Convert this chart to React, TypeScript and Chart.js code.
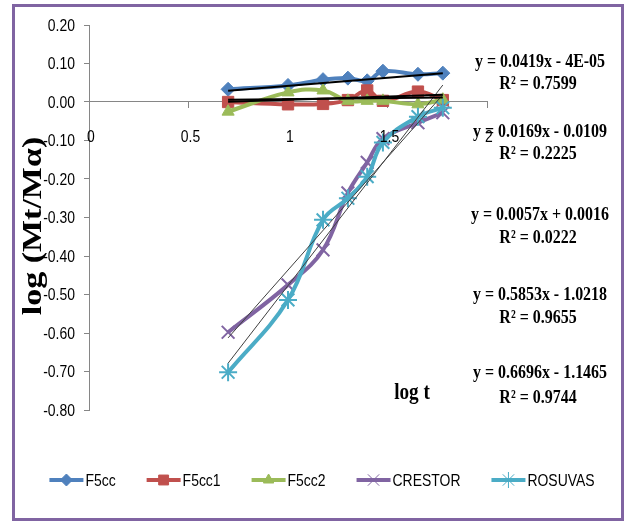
import React, { useEffect, useRef } from 'react';
import { Chart, registerables } from 'chart.js';
import { drawPoint } from 'chart.js/helpers';

Chart.register(...registerables);

// ---- data ----
const logT = [0.699, 1, 1.176, 1.301, 1.398, 1.477, 1.653, 1.778];
const f5cc = [0.033, 0.043, 0.058, 0.062, 0.055, 0.08, 0.072, 0.075];
const f5cc1 = [0.0, -0.006, -0.005, 0.005, 0.03, 0.003, 0.027, 0.005];
const f5cc2 = [-0.025, 0.025, 0.03, 0.003, 0.003, 0.003, -0.006, 0.006];
const crestor = [-0.598, -0.475, -0.384, -0.236, -0.157, -0.095, -0.054, -0.028];
const rosuvas = [-0.702, -0.514, -0.306, -0.25, -0.194, -0.105, -0.038, -0.015];

const seriesNames = ['F5cc', 'F5cc1', 'F5cc2', 'CRESTOR', 'ROSUVAS'];
const seriesValues = [f5cc, f5cc1, f5cc2, crestor, rosuvas];
const seriesColors = ['#4F81BD', '#C0504D', '#9BBB59', '#8064A2', '#4BACC6'];
const seriesMarkers = ['rectRot', 'rect', 'triangle', 'crossRot', 'star'];
const markerRadius = [7, 8, 7, 9, 9];

// trend lines as printed on the chart
const trendSlopes = [0.0419, 0.0169, 0.0057, 0.5853, 0.6696];
const trendIntercepts = [-0.00004, -0.0109, 0.0016, -1.0218, -1.1465];
const trendEquations = [
  'y = 0.0419x - 4E-05',
  'y = 0.0169x - 0.0109',
  'y = 0.0057x + 0.0016',
  'y = 0.5853x - 1.0218',
  'y = 0.6696x - 1.1465',
];
const trendR2 = ['R² = 0.7599', 'R² = 0.2225', 'R² = 0.0222', 'R² = 0.9655', 'R² = 0.9744'];

const yMin = -0.8;
const yMax = 0.2;
const yStep = 0.1;
const xMin = 0;
const xMax = 2;
const xStep = 0.5;

const yTitle = 'log (Mt/Mα)';
const xTitle = 'log t';

const SANS = "'Liberation Sans', Arial, sans-serif";
const SERIF = "'Liberation Serif', 'Times New Roman', serif";
const SQUEEZE = 0.82;

function squeezedText(ctx: any, text: string, x: number, y: number, align: string, sx: number) {
  ctx.save();
  ctx.translate(x, y);
  ctx.scale(sx, 1);
  ctx.textAlign = align;
  ctx.fillText(text, 0, 0);
  ctx.restore();
}

const framePlugin = {
  id: 'frame',
  beforeDraw(chart: any) {
    const ctx = chart.ctx;
    ctx.save();
    ctx.fillStyle = '#ffffff';
    ctx.fillRect(0, 0, chart.width, chart.height);
    ctx.strokeStyle = '#8064A2';
    ctx.lineWidth = 3;
    ctx.strokeRect(13.5, 5.5, 609, 514);
    ctx.restore();
  },
};

const textPlugin = {
  id: 'texts',
  afterDraw(chart: any) {
    const ctx = chart.ctx;
    ctx.save();
    ctx.fillStyle = '#000000';
    ctx.textBaseline = 'middle';

    // tick labels (positions from the chart's own scales)
    ctx.font = `17px ${SANS}`;
    const ys = chart.scales.y;
    ys.ticks.forEach((t: any) => {
      squeezedText(ctx, Number(t.value).toFixed(2), 75, ys.getPixelForValue(t.value) + 1, 'right', SQUEEZE);
    });
    const xs = chart.scales.x;
    const zeroY = ys.getPixelForValue(0);
    xs.ticks.forEach((t: any) => {
      squeezedText(ctx, String(Number(t.value)), xs.getPixelForValue(t.value) + 2, zeroY + 35, 'center', SQUEEZE);
    });

    // equations
    const eqY = [62, 132, 215, 295, 373];
    const r2Y = [84, 154, 238, 318, 398];
    ctx.font = `bold 19px ${SERIF}`;
    trendEquations.forEach((t, i) => {
      squeezedText(ctx, t, 540, eqY[i], 'center', 0.84);
      squeezedText(ctx, trendR2[i], 538, r2Y[i], 'center', 0.84);
    });
    // axis titles
    ctx.font = `bold 24px ${SERIF}`;
    squeezedText(ctx, xTitle, 412, 393, 'center', 0.8);
    ctx.save();
    ctx.translate(34, 226);
    ctx.rotate(-Math.PI / 2);
    ctx.scale(1, 0.8);
    ctx.font = `bold 34px ${SERIF}`;
    ctx.textAlign = 'center';
    ctx.fillText(yTitle, 0, 0);
    ctx.restore();

    // legend
    ctx.font = `17px ${SANS}`;
    const lineLen = 34;
    const gap = 2;
    const spacing = 31;
    const widths = seriesNames.map((n) => lineLen + gap + ctx.measureText(n).width * SQUEEZE);
    const total = widths.reduce((a, b) => a + b, 0) + spacing * (seriesNames.length - 1);
    let x = 322 - total / 2;
    const y = 480;
    seriesNames.forEach((n, i) => {
      ctx.strokeStyle = seriesColors[i];
      ctx.lineWidth = 4;
      ctx.beginPath();
      ctx.moveTo(x, y);
      ctx.lineTo(x + lineLen, y);
      ctx.stroke();
      ctx.fillStyle = seriesColors[i];
      ctx.lineWidth = 1;
      const m = seriesMarkers[i];
      drawPoint(ctx, { pointStyle: m, rotation: 0, radius: m === 'rect' ? 7 : m === 'crossRot' || m === 'star' ? 8 : 6, borderWidth: 1 }, x + lineLen / 2, y);
      ctx.fillStyle = '#000000';
      squeezedText(ctx, n, x + lineLen + gap, y + 1, 'left', SQUEEZE);
      x += widths[i] + spacing;
    });
    ctx.restore();
  },
};

export default function App() {
  const ref = useRef<HTMLCanvasElement>(null);

  useEffect(() => {
    if (!ref.current) return;
    const first = logT[0];
    const last = logT[logT.length - 1];

    const seriesSets = seriesNames.map((name, i) => ({
      label: name,
      data: logT.map((x, j) => ({ x, y: seriesValues[i][j] })),
      borderColor: seriesColors[i],
      backgroundColor: seriesColors[i],
      borderWidth: 4,
      tension: 0.4,
      pointStyle: seriesMarkers[i],
      pointRadius: markerRadius[i],
      pointBorderWidth: seriesMarkers[i] === 'crossRot' || seriesMarkers[i] === 'star' ? 2 : 1,
      pointBackgroundColor: seriesColors[i],
      pointBorderColor: seriesColors[i],
      order: 10 - i,
      fill: false,
    }));

    const trendSets = trendSlopes.map((s, i) => ({
      label: 'trend ' + seriesNames[i],
      data: [
        { x: first, y: s * first + trendIntercepts[i] },
        { x: last, y: s * last + trendIntercepts[i] },
      ],
      borderColor: i < 3 ? '#000000' : '#404040',
      borderWidth: i < 3 ? 2 : 1,
      pointRadius: 0,
      tension: 0,
      order: 0,
      fill: false,
    }));

    const chart = new Chart(ref.current, {
      type: 'line',
      data: { datasets: [...seriesSets, ...trendSets] as any },
      options: {
        animation: false,
        responsive: false,
        devicePixelRatio: 1,
        layout: { padding: { left: 19, right: 139, top: 25, bottom: 114 } },
        plugins: { legend: { display: false }, tooltip: { enabled: false } },
        scales: {
          x: {
            type: 'linear',
            position: { y: 0 } as any,
            min: xMin,
            max: xMax,
            grid: { display: true, drawOnChartArea: false, drawTicks: true, tickLength: 6, color: '#868686' },
            border: { display: true, color: '#868686', width: 1 },
            ticks: {
              stepSize: xStep,
              padding: 18,
              color: 'rgba(0,0,0,0)',
              font: { family: SANS, size: 15 },
              maxRotation: 0,
            },
          },
          y: {
            type: 'linear',
            min: yMin,
            max: yMax,
            afterFit: (s: any) => {
              s.width = 70;
            },
            grid: { display: true, drawOnChartArea: false, drawTicks: true, tickLength: 5, color: '#868686' },
            border: { display: true, color: '#868686', width: 1 },
            ticks: {
              stepSize: yStep,
              padding: 9,
              color: 'rgba(0,0,0,0)',
              font: { family: SANS, size: 15 },
            },
          },
        },
      },
      plugins: [framePlugin, textPlugin],
    });
    return () => chart.destroy();
  }, []);

  return (
    <div style={{ width: 626, height: 524, overflow: 'hidden' }}>
      <style>{'body{margin:0}'}</style>
      <canvas ref={ref} width={626} height={524} style={{ display: 'block', width: 626, height: 524 }} />
    </div>
  );
}
